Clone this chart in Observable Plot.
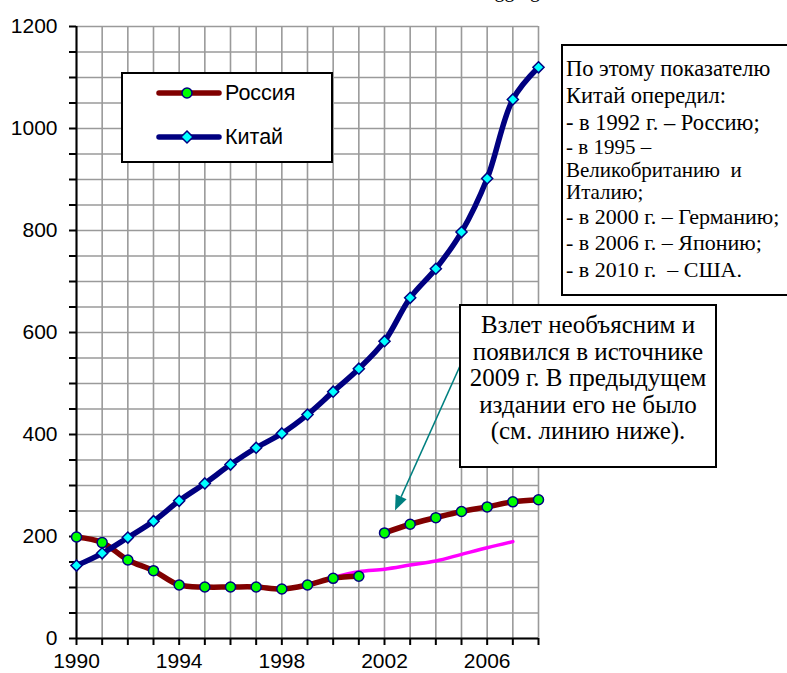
<!DOCTYPE html>
<html>
<head>
<meta charset="utf-8">
<script src="https://cdn.jsdelivr.net/npm/d3@7"></script>
<script src="https://cdn.jsdelivr.net/npm/@observablehq/plot@0.6"></script>
<style>
  html, body { margin: 0; padding: 0; background: #fff; }
  #wrap { position: relative; width: 787px; height: 673px; overflow: hidden; background: #fff; }
  .box { position: absolute; border: 2px solid #000; background: #fff; box-sizing: border-box; }
  .serif { font-family: "Liberation Serif", "Times New Roman", serif; color: #000; }
  .sans { font-family: "Liberation Sans", Arial, sans-serif; color: #000; }
</style>
</head>
<body>
<div id="wrap"></div>
<script>
// ---------- data ----------
const years = [1990,1991,1992,1993,1994,1995,1996,1997,1998,1999,2000,2001,2002,2003,2004,2005,2006,2007,2008];
const labelYears = [1990,1994,1998,2002,2006];
const china = [143,167,198,230,270,304,341,374,402,439,484,529,583,668,725,797,902,1057,1120];
const russiaYearsA = [1990,1991,1992,1993,1994,1995,1996,1997,1998,1999,2000,2001];
const russiaA = [199,188,154,133,105,101,101,101,97,105,118,122];
const russiaYearsB = [2002,2003,2004,2005,2006,2007,2008];
const russiaB = [207,224,237,249,258,268,272];
const oldYears = [2000,2001,2002,2003,2004,2005,2006,2007];
const oldRussia = [120,131,136,144,152,165,178,190];
const yTicks = [0,50,100,150,200,250,300,350,400,450,500,550,600,650,700,750,800,850,900,950,1000,1050,1100,1150,1200];
const yLabels = [0,200,400,600,800,1000,1200];
const legendNames = ["Россия", "Китай"];
const note1A = ["По этому показателю", "Китай опередил:", "- в 1992 г. – Россию;"];
const note1B = ["- в 1995 –", "Великобританию  и", "Италию;"];
const note1C = ["- в 2000 г. – Германию;", "- в 2006 г. – Японию;", "- в 2010 г.  – США."];
const note2 = ["Взлет необъясним и", "появился в источнике", "2009 г. В предыдущем", "издании его не было", "(см. линию ниже)."];

// ---------- tables ----------
const chinaData = years.map((year, i) => ({year, value: china[i]}));
const rusA = russiaYearsA.map((year, i) => ({year, value: russiaA[i]}));
const rusB = russiaYearsB.map((year, i) => ({year, value: russiaB[i]}));
const oldData = oldYears.map((year, i) => ({year, value: oldRussia[i]}));

const RUS = "#800000", CHN = "#000080", GRID = "#9a9a9a";

const plot = Plot.plot({
  width: 787,
  height: 673,
  marginLeft: 76,
  marginRight: 249,
  marginTop: 26,
  marginBottom: 35,
  style: {fontFamily: "Liberation Sans, Arial, sans-serif", fontSize: "21px", color: "#000", background: "#fff"},
  x: {domain: [1990, 2008], axis: null},
  y: {domain: [0, 1200], axis: null},
  marks: [
    Plot.gridX(years, {stroke: GRID, strokeOpacity: 1, strokeWidth: 1.6}),
    Plot.gridY(yTicks, {stroke: GRID, strokeOpacity: 1, strokeWidth: 1.6}),
    Plot.axisX(years, {label: null, tickSize: 7, tickPadding: 8, strokeWidth: 2, tickFormat: d => labelYears.includes(d) ? String(d) : "", fontSize: 21}),
    Plot.axisY(yTicks, {label: null, tickSize: 7, tickPadding: 12, strokeWidth: 2, tickFormat: d => yLabels.includes(d) ? String(d) : "", fontSize: 21}),
    Plot.ruleY([0], {stroke: "#000", strokeWidth: 2}),
    Plot.ruleX([1990], {stroke: "#000", strokeWidth: 2}),
    Plot.line(oldData, {x: "year", y: "value", stroke: "#ff00ff", strokeWidth: 3.5, curve: "catmull-rom"}),
    Plot.line(rusA, {x: "year", y: "value", stroke: RUS, strokeWidth: 5.5, curve: "catmull-rom"}),
    Plot.line(rusB, {x: "year", y: "value", stroke: RUS, strokeWidth: 5.5, curve: "catmull-rom"}),
    Plot.line(chinaData, {x: "year", y: "value", stroke: CHN, strokeWidth: 5.5, curve: "catmull-rom"}),
    Plot.dot(rusA, {x: "year", y: "value", r: 5, fill: "#00ff00", stroke: CHN, strokeWidth: 1.5}),
    Plot.dot(rusB, {x: "year", y: "value", r: 5, fill: "#00ff00", stroke: CHN, strokeWidth: 1.5}),
    Plot.dot(chinaData, {x: "year", y: "value", r: 5, symbol: "diamond2", fill: "#00ffff", stroke: CHN, strokeWidth: 1.5})
  ]
});

const wrap = document.getElementById("wrap");
wrap.appendChild(plot);

// ---------- arrow (anchored to the 2002 point via scales) ----------
const xs = plot.scale("x"), ys = plot.scale("y");
const svg = d3.select(plot);
const tipX = xs.apply(russiaYearsB[0]) + 11, tipY = ys.apply(russiaB[0]) - 22;
const startX = 460, startY = 366;
const ang = Math.atan2(tipY - startY, tipX - startX);
const headLen = 15, headW = 6;
const bx = tipX - headLen * Math.cos(ang), by = tipY - headLen * Math.sin(ang);
svg.append("line").attr("x1", startX).attr("y1", startY).attr("x2", bx).attr("y2", by)
  .attr("stroke", "#008080").attr("stroke-width", 1.6);
svg.append("polygon").attr("fill", "#008080").attr("points", [
  [tipX, tipY],
  [bx + headW * Math.sin(ang), by - headW * Math.cos(ang)],
  [bx - headW * Math.sin(ang), by + headW * Math.cos(ang)]
].map(p => p.join(",")).join(" "));

// ---------- legend ----------
const leg = document.createElement("div");
leg.className = "box sans";
Object.assign(leg.style, {left: "121px", top: "72px", width: "212px", height: "91px"});
const legStyles = [
  {stroke: RUS, marker: `<circle cx="31" cy="9" r="5" fill="#00ff00" stroke="${CHN}" stroke-width="1.5"/>`},
  {stroke: CHN, marker: `<path d="M31,3 L37,9 L31,15 L25,9 Z" fill="#00ffff" stroke="${CHN}" stroke-width="1.5"/>`}
];
legendNames.forEach((name, i) => {
  const row = document.createElement("div");
  Object.assign(row.style, {position: "absolute", left: "33px", top: (i === 0 ? 8 : 52) + "px", height: "22px", display: "flex", alignItems: "center", fontSize: "21.5px"});
  row.innerHTML = `<svg width="66" height="18" style="margin-right:3px"><line x1="3" y1="9" x2="63" y2="9" stroke="${legStyles[i].stroke}" stroke-width="5.5" stroke-linecap="round"/>${legStyles[i].marker}</svg><span>${name}</span>`;
  leg.appendChild(row);
});
wrap.appendChild(leg);

// ---------- note 1 ----------
const n1 = document.createElement("div");
n1.className = "box serif";
Object.assign(n1.style, {left: "561px", top: "44px", width: "240px", height: "252px", padding: "9px 0 0 3px"});
const rowHtml = (t, fs, lh) => `<div style="font-size:${fs}px;line-height:${lh}px;white-space:pre">${t}</div>`;
n1.innerHTML = note1A.map(t => rowHtml(t, 22.5, 27)).join("") +
  note1B.map(t => rowHtml(t, 21, 22.5)).join("") +
  note1C.map(t => rowHtml(t, 22, 26.5)).join("");
wrap.appendChild(n1);

// ---------- note 2 ----------
const n2 = document.createElement("div");
n2.className = "box serif";
Object.assign(n2.style, {left: "459px", top: "304px", width: "258px", height: "164px", paddingTop: "6px", textAlign: "center", fontSize: "25px", lineHeight: "26.5px"});
n2.innerHTML = note2.map(t => `<div style="white-space:pre">${t}</div>`).join("");
wrap.appendChild(n2);

// ---------- clipped heading fragment at the very top ----------
const headFrag = document.createElement("div");
headFrag.className = "serif";
Object.assign(headFrag.style, {position: "absolute", left: "480px", top: "-21px", fontSize: "20px", lineHeight: "22px", whiteSpace: "pre"});
headFrag.textContent = "Aggregate";
wrap.appendChild(headFrag);
</script>
</body>
</html>
